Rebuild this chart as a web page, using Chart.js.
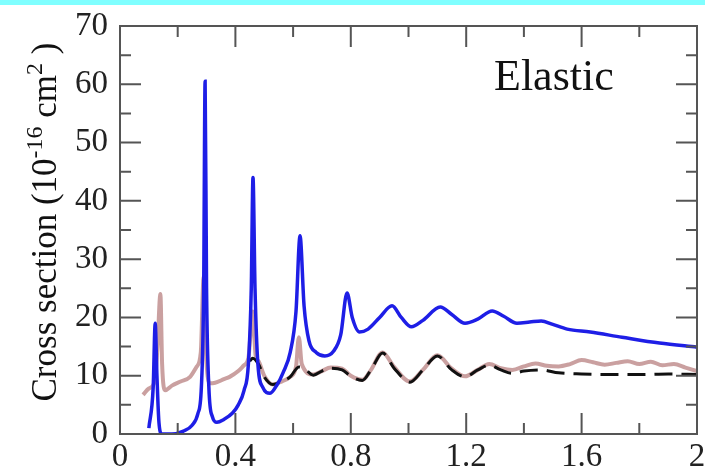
<!DOCTYPE html>
<html><head><meta charset="utf-8">
<script src="https://cdn.jsdelivr.net/npm/chart.js@4/dist/chart.umd.min.js"></script>
<style>html,body{margin:0;padding:0;background:#fff;overflow:hidden}</style>
</head><body><canvas id="c" width="705" height="470"></canvas>
<script>
// Blue solid curve
const blueX = [0.10,0.115,0.122,0.128,0.135,0.145,0.18,0.22,0.25,0.27,0.282,0.29,0.295,0.30,0.308,0.32,0.336,0.36,0.39,0.41,0.43,0.445,0.455,0.461,0.468,0.478,0.495,0.52,0.545,0.565,0.59,0.61,0.624,0.638,0.655,0.68,0.71,0.74,0.765,0.787,0.805,0.83,0.86,0.90,0.943,0.975,1.01,1.05,1.11,1.15,1.196,1.24,1.29,1.33,1.376,1.42,1.46,1.50,1.55,1.63,1.74,1.87,2.0];
const blueY = [1,8,19,10,2,0,0,0.5,1.5,3.5,8,25,60.5,25,8,3,2,2.5,3.6,5,7.5,12,25,44,25,12,8,7,8.5,10.5,14,21,34,22,16,14,13.4,14.2,17,24.2,20,17.5,18,20,22,20,18.4,19.5,21.8,20.5,19,19.7,21.1,20.2,19,19.2,19.4,18.8,18,17.5,16.6,15.6,14.9];
// Pink (rosy) curve
const pinkX = [0.08,0.10,0.12,0.13,0.14,0.146,0.156,0.18,0.21,0.243,0.265,0.28,0.29,0.298,0.31,0.33,0.36,0.38,0.41,0.43,0.445,0.46,0.47,0.48,0.50,0.53,0.56,0.59,0.61,0.62,0.63,0.67,0.70,0.73,0.77,0.80,0.84,0.87,0.91,0.95,1.005,1.05,1.10,1.15,1.196,1.24,1.28,1.32,1.36,1.40,1.44,1.48,1.52,1.56,1.60,1.64,1.68,1.72,1.76,1.80,1.84,1.88,1.92,1.96,2.0];
const pinkY = [6.7,7.8,9,15,24,12,7.5,8.3,9,9.8,11.5,14,27,14,8.7,8.8,9.4,9.8,10.8,11.8,13,21,13.5,12.5,10,8.5,9,9.8,11.5,16.6,12,10.2,10.8,11.4,11.2,10,9.3,11,14,11.5,9,11,13.5,11.2,9.9,11,12,11.3,11,11.6,12.1,11.7,11.6,12,12.7,12.3,11.9,12.2,12.5,12,12.4,11.8,12,11.4,10.8];
// Black dashed curve
const dashX = [0.45,0.46,0.48,0.50,0.53,0.56,0.59,0.62,0.64,0.67,0.70,0.73,0.77,0.80,0.84,0.87,0.91,0.95,1.005,1.05,1.10,1.15,1.196,1.24,1.28,1.32,1.36,1.40,1.46,1.52,1.60,1.70,1.80,1.90,2.0];
const dashY = [12.5,13,12,9.8,8.5,9,9.8,11.5,11.2,10.1,10.8,11.3,11,9.9,9.2,11,13.9,11.3,8.9,11,13.4,11,9.8,11,11.8,11,10.4,10.8,11,10.5,10.3,10.2,10.2,10.3,10.2];

const xMinorTicks = [0.2,0.6,1.0,1.4,1.8];
const yMinorTicks = [5,15,25,35,45,55,65];
const panelLabel = 'Elastic';

const pts = (xs, ys) => xs.map((x, i) => ({x, y: ys[i]}));
const SERIF = "'Liberation Serif', 'Times New Roman', serif";
const AXIS = '#555';

const decor = {
  id: 'decor',
  beforeDraw(chart) {
    const c = chart.ctx;
    c.save();
    c.fillStyle = '#fff';
    c.fillRect(0, 0, chart.width, chart.height);
    c.fillStyle = '#80ffff';
    c.fillRect(0, 0, chart.width, 5);
    c.restore();
  },
  afterDraw(chart) {
    const c = chart.ctx, a = chart.chartArea, sx = chart.scales.x, sy = chart.scales.y;
    c.save();
    c.strokeStyle = AXIS;
    c.lineWidth = 2;
    c.strokeRect(a.left, a.top, a.right - a.left, a.bottom - a.top);
    const MAJ = 21, MIN = 11;
    c.beginPath();
    const xt = (v, L) => { const p = sx.getPixelForValue(v); c.moveTo(p, a.bottom); c.lineTo(p, a.bottom - L); c.moveTo(p, a.top); c.lineTo(p, a.top + L); };
    const yt = (v, L) => { const p = sy.getPixelForValue(v); c.moveTo(a.left, p); c.lineTo(a.left + L, p); c.moveTo(a.right, p); c.lineTo(a.right - L, p); };
    sx.ticks.forEach(t => xt(t.value, MAJ));
    xMinorTicks.forEach(v => xt(v, MIN));
    sy.ticks.forEach(t => yt(t.value, MAJ));
    yMinorTicks.forEach(v => yt(v, MIN));
    c.stroke();

    // panel label
    c.fillStyle = '#111';
    c.font = '44px ' + SERIF;
    c.textBaseline = 'alphabetic';
    c.textAlign = 'left';
    c.fillText(panelLabel, 494, 90);

    // y-axis title with superscripts
    const parts = [
      ['Cross section (10', 35, 0],
      ['-16', 24, -14],
      [' cm', 35, 0],
      ['2', 24, -14],
      [' )', 35, 0]
    ];
    let total = 0;
    parts.forEach(p => { c.font = p[1] + 'px ' + SERIF; total += c.measureText(p[0]).width; });
    c.translate(56, 222);
    c.rotate(-Math.PI / 2);
    let x = -total / 2;
    parts.forEach(p => { c.font = p[1] + 'px ' + SERIF; c.fillText(p[0], x, p[2]); x += c.measureText(p[0]).width; });
    c.restore();
  }
};

new Chart(document.getElementById('c'), {
  type: 'line',
  data: {
    datasets: [
      { label: 'blue', data: pts(blueX, blueY), borderColor: '#1e1ee6', borderWidth: 3.5, pointRadius: 0, cubicInterpolationMode: 'monotone', order: 0 },
      { label: 'dashed', data: pts(dashX, dashY), borderColor: '#111', borderWidth: 3, borderDash: [18, 9], pointRadius: 0, cubicInterpolationMode: 'monotone', order: 1 },
      { label: 'pink', data: pts(pinkX, pinkY), borderColor: 'rgba(196,150,150,0.9)', borderWidth: 4, pointRadius: 0, cubicInterpolationMode: 'monotone', order: 2 }
    ]
  },
  options: {
    responsive: false,
    devicePixelRatio: 1,
    animation: false,
    layout: { padding: { left: 0, top: 26, right: 8, bottom: 0 } },
    plugins: { legend: { display: false }, tooltip: { enabled: false } },
    scales: {
      x: {
        type: 'linear', min: 0, max: 2,
        ticks: { stepSize: 0.4, font: { family: SERIF, size: 33 }, color: '#222', padding: 4, maxRotation: 0,
                 callback: v => String(Math.round(v * 10) / 10) },
        grid: { drawOnChartArea: false, drawTicks: false },
        border: { color: AXIS, width: 2 },
        afterFit(s) { s.height = 36; s.paddingLeft = 0; s.paddingRight = 0; }
      },
      y: {
        type: 'linear', min: 0, max: 70,
        ticks: { stepSize: 10, font: { family: SERIF, size: 33 }, color: '#222', padding: 12 },
        grid: { drawOnChartArea: false, drawTicks: false },
        border: { color: AXIS, width: 2 },
        afterFit(s) { s.width = 120; s.paddingTop = 0; s.paddingBottom = 0; }
      }
    }
  },
  plugins: [decor]
});
</script></body></html>
